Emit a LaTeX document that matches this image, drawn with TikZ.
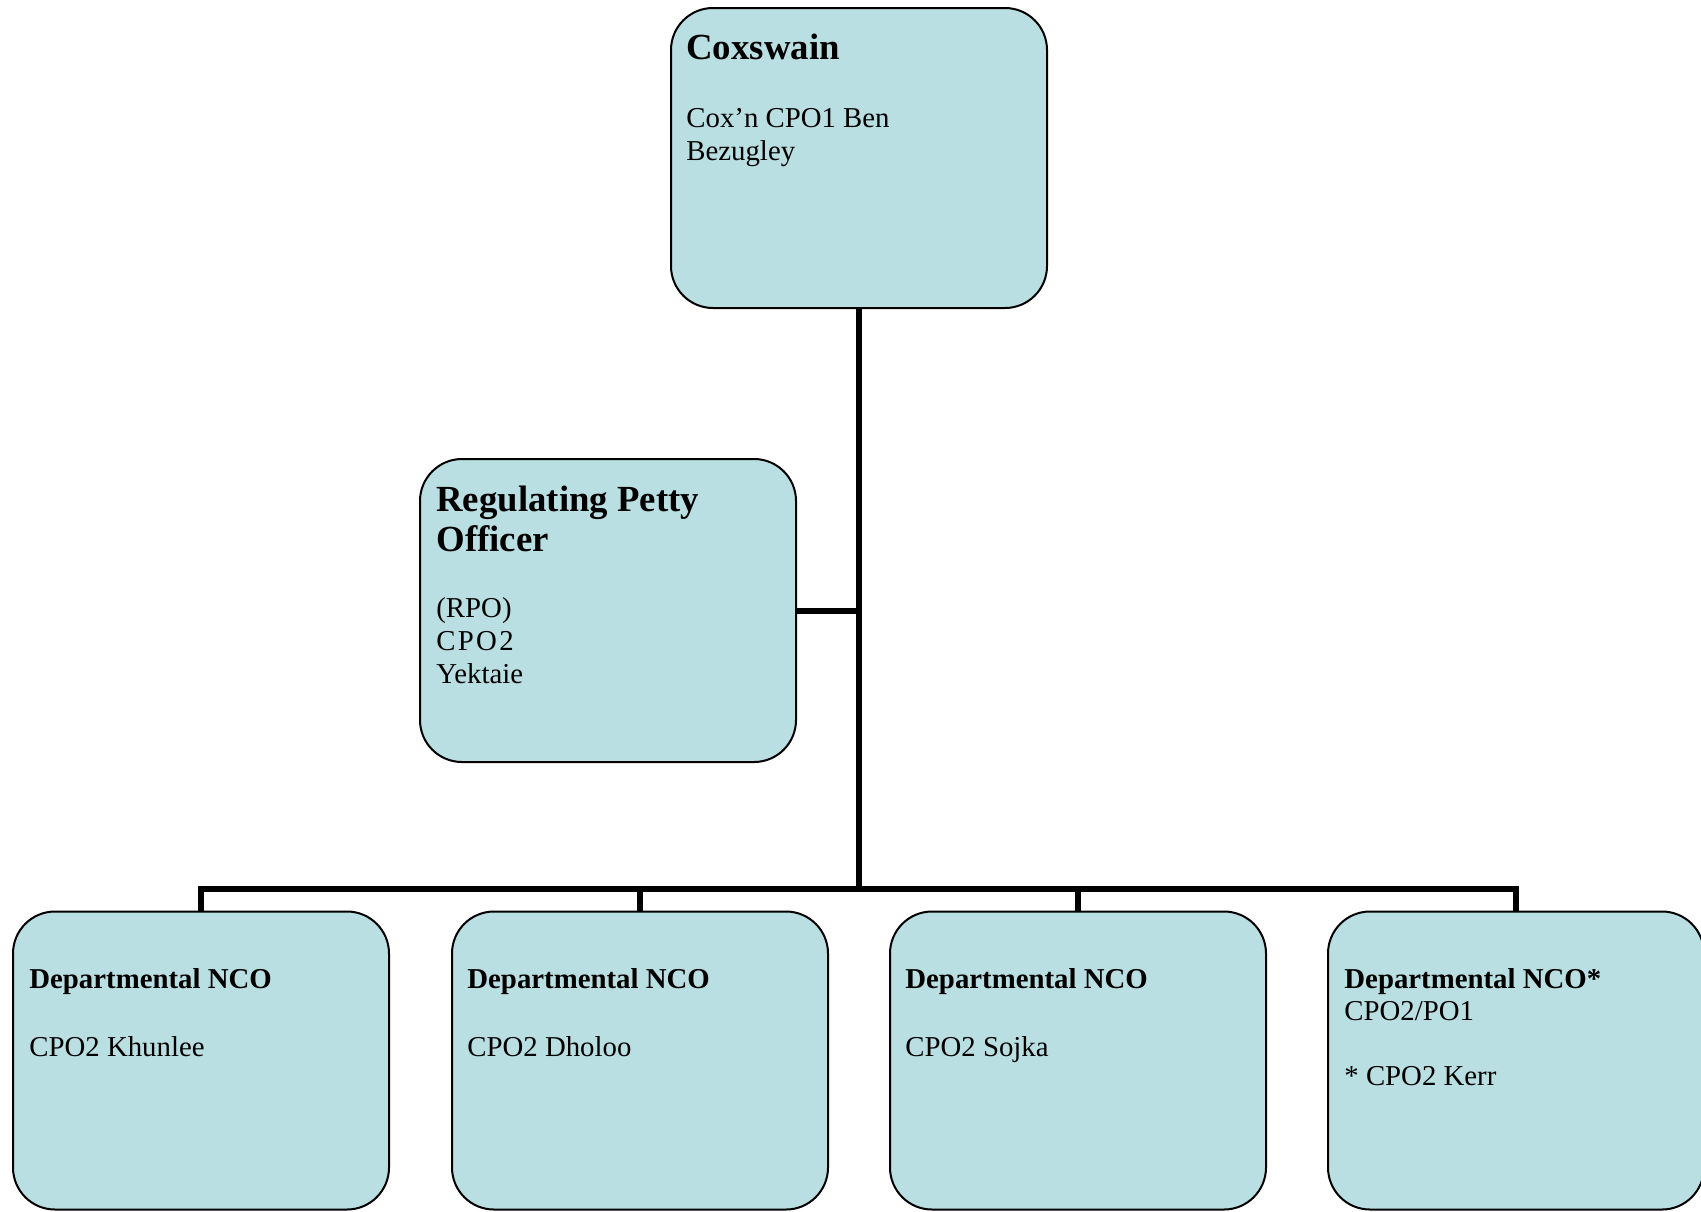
\documentclass[tikz,border=0pt]{standalone}
\usepackage{fontspec}
\setmainfont{Liberation Serif}
\usepackage{tikz}
\usetikzlibrary{positioning}
\definecolor{postblue}{RGB}{185,223,226}

\begin{document}
\begin{tikzpicture}[x=0.5pt,y=-0.5pt,
        post/.style={draw=black,line width=1pt,fill=postblue,rounded corners=21pt,
            minimum width=188pt,minimum height=150pt,inner sep=0pt},
        link/.style={line width=3pt},
        head/.style={font=\fontsize{18.4}{20}\selectfont\bfseries,anchor=base west,inner sep=0pt},
        subhead/.style={font=\fontsize{14.4}{16.5}\selectfont\bfseries,anchor=base west,inner sep=0pt},
        body/.style={font=\fontsize{14.4}{16.5}\selectfont,anchor=base west,inner sep=0pt}]
    \useasboundingbox (0,0) rectangle (1701,1211);
    \coordinate (bus) at (859,889);
    % posts
    \node[post] (cox) at (859,158) {};
    \node[post,minimum height=151.5pt] (rpo) at (608,610.5) {};
    \node[post,minimum height=149pt] (dep1) at (201,1060.5) {};
    \node[post,minimum height=149pt] (dep2) at (640,1060.5) {};
    \node[post,minimum height=149pt] (dep3) at (1078,1060.5) {};
    \node[post,minimum height=149pt] (dep4) at (1516,1060.5) {};
    % texts
    \node[head] (coxhead) at ([shift={(16,52)}]cox.north west) {Coxswain};
    \node[body] (coxname) at ([shift={(16,120)}]cox.north west)
        {\begin{tabular}[t]{@{}l@{}}Cox'n CPO1 Ben\\Bezugley\end{tabular}};
    \node[head] (rpohead) at ([shift={(17,53)}]rpo.north west)
        {\begin{tabular}[t]{@{}l@{}}Regulating Petty\\Officer\end{tabular}};
    \node[body] (rponame) at ([shift={(17,159)}]rpo.north west)
        {\begin{tabular}[t]{@{}l@{}}(RPO)\\{\addfontfeature{LetterSpace=8}CPO2}\\Yektaie\end{tabular}};
    \node[subhead] (dep1head) at ([shift={(17,78)}]dep1.north west) {Departmental NCO};
    \node[body] (dep1name) at ([shift={(17,146)}]dep1.north west) {CPO2 Khunlee};
    \node[subhead] (dep2head) at ([shift={(16,78)}]dep2.north west) {Departmental NCO};
    \node[body] (dep2name) at ([shift={(16,146)}]dep2.north west) {CPO2 Dholoo};
    \node[subhead] (dep3head) at ([shift={(16,78)}]dep3.north west) {Departmental NCO};
    \node[body] (dep3name) at ([shift={(16,146)}]dep3.north west) {CPO2 Sojka};
    \node[subhead] (dep4head) at ([shift={(17,78)}]dep4.north west) {Departmental NCO*};
    \node[body] (dep4name) at ([shift={(17,110)}]dep4.north west)
        {\begin{tabular}[t]{@{}l@{}}CPO2/PO1\\[16pt]* CPO2 Kerr\end{tabular}};
    % lines
    \draw[link] (cox.south) -- (bus);
    \draw[link] (rpo.east) -- (rpo.east -| bus);
    \draw[link] (dep1.north) |- (bus) -| (dep4.north);
    \draw[link] (dep2.north) -- (dep2.north |- bus);
    \draw[link] (dep3.north) -- (dep3.north |- bus);
\end{tikzpicture}
\end{document}
